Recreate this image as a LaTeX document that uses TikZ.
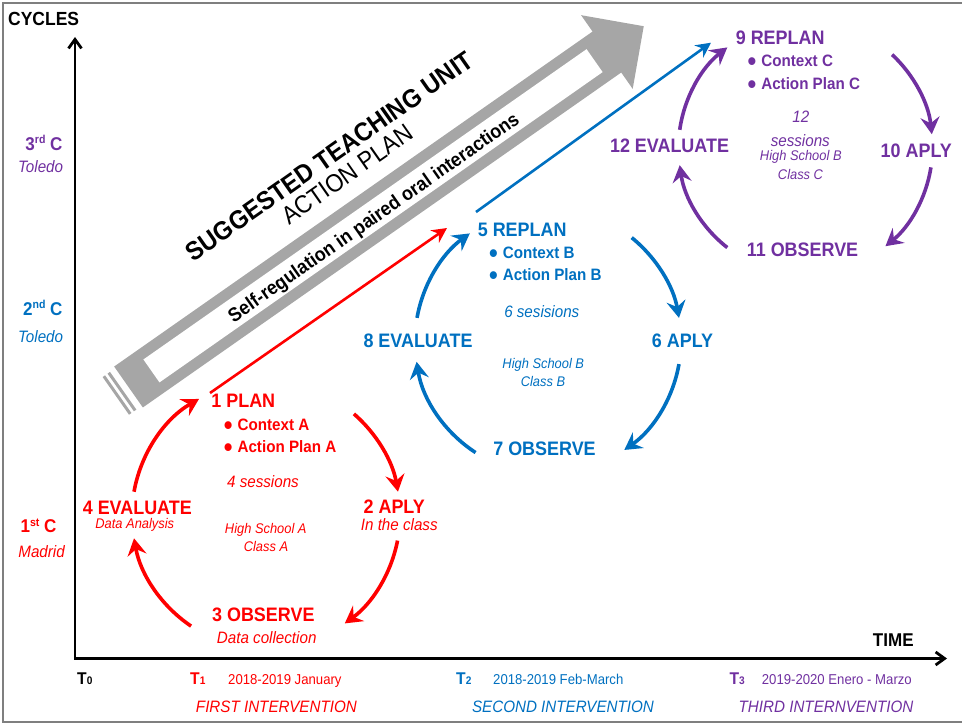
\documentclass[tikz,border=0pt]{standalone}
\usepackage{fontspec}
\setmainfont{Liberation Sans}[FakeStretch=0.92]
\usetikzlibrary{arrows.meta,calc}

\definecolor{cycred}{HTML}{FF0000}
\definecolor{cycblue}{HTML}{0070C0}
\definecolor{cycpurple}{HTML}{7030A0}
\definecolor{bandgray}{HTML}{A6A6A6}
\definecolor{framegray}{HTML}{7F7F7F}

\newcommand{\setfs}[1]{\fontsize{#1}{#1}\selectfont}
\newcommand{\bul}{\raisebox{-4pt}{\setfs{27}\textbullet}\hspace{5pt}}
\newcommand{\tsub}[1]{{\setfs{11}#1}}
\newcommand{\ordsup}[1]{\raisebox{6.5pt}{\setfs{11.5}#1}}

\tikzset{
  stage/.style={font=\bfseries\setfs{19.5}, inner sep=0pt, text depth=0pt},
  item/.style={font=\bfseries\setfs{16.5}, inner sep=0pt, text depth=0pt, anchor=west},
  notebig/.style={font=\itshape\setfs{16.5}, inner sep=0pt, text depth=0pt},
  notesmall/.style={font=\itshape\setfs{14}, inner sep=0pt, text depth=0pt},
  cyclearc/.style={line width=3.6pt, -{Stealth[length=17pt,width=19pt,inset=6pt]}},
  jumparrow/.style={line width=2.6pt, -{Stealth[length=15pt,width=15pt,inset=5pt]}},
  axisline/.style={line width=2.8pt, line join=miter,
    {Straight Barb[length=9pt,width=13pt]}-{Straight Barb[length=9pt,width=13pt]}},
  ylabel/.style={font=\bfseries\setfs{18.5}, inner sep=0pt, anchor=base east},
  yplace/.style={font=\itshape\setfs{16.5}, inner sep=0pt, text depth=0pt, anchor=east},
  tmark/.style={font=\bfseries\setfs{17}, inner sep=0pt, anchor=base west},
  tdate/.style={font=\setfs{14.3}, inner sep=0pt, anchor=base west},
  interv/.style={font=\itshape\setfs{16.5}, inner sep=0pt, text depth=0pt},
  bandtext/.style={rotate=35, inner sep=0pt, text depth=0pt},
}

\begin{document}
\begin{tikzpicture}[x=1pt, y=-1pt]
\useasboundingbox (0,0) rectangle (962,725);

% frame
\draw[framegray, line width=2pt] (962,3) -- (3,3) -- (3,721.5) -- (962,721.5);

% hollow diagonal arrow with its captions
\begin{scope}[shift={(128.5,387)}, rotate=35]
  \fill[bandgray] (0,-25) -- (584,-25) -- (584,-45) -- (629,0) -- (584,45) -- (584,25) -- (0,25) -- cycle;
  \fill[white] (28,-14) rectangle (569,14);
  \fill[bandgray] (-9.5,-23) rectangle (-6.5,23);
  \fill[bandgray] (-15.5,-23) rectangle (-12.5,23);
  \node[bandtext, font=\bfseries\setfs{19.5}] (selfreg) at (298,1) {Self-regulation in paired oral interactions};
  \node[bandtext, font=\setfs{25}] (actionplan) at (301,-49) {ACTION PLAN};
  \node[bandtext, font=\bfseries\setfs{26}] (unit) at (297,-74) {SUGGESTED TEACHING UNIT};
\end{scope}

% axes
\coordinate (origin) at (75,658.5);
\coordinate (ytip) at (75,37);
\coordinate (xtip) at (947,658.5);
\draw[axisline] (ytip) -- (origin) -- (xtip);
\node[font=\bfseries\setfs{19}, inner sep=0pt, text depth=0pt, anchor=west] (cycles) at (8,19.3) {CYCLES};
\node[font=\bfseries\setfs{18.5}, inner sep=0pt, text depth=0pt] (time) at (893.3,640) {TIME};

% cycle labels on the vertical axis
\node[ylabel, cycpurple] (c3lbl) at (62.7,150) {3\ordsup{rd} C};
\node[yplace, cycpurple] (c3city) at (63.3,167) {Toledo};
\node[ylabel, cycblue] (c2lbl) at (62.7,315) {2\ordsup{nd} C};
\node[yplace, cycblue] (c2city) at (63.3,337) {Toledo};
\node[ylabel, cycred] (c1lbl) at (56.7,532.7) {1\ordsup{st} C};
\node[yplace, cycred] (c1city) at (65,552) {Madrid};

% time marks
\node[tmark] (t0) at (77,684) {T\tsub{0}};
\node[tmark, cycred] (t1) at (190,684) {T\tsub{1}};
\node[tdate, cycred] (d1) at (228,684) {2018-2019 January};
\node[tmark, cycblue] (t2) at (456,684) {T\tsub{2}};
\node[tdate, cycblue] (d2) at (493,684) {2018-2019 Feb-March};
\node[tmark, cycpurple] (t3) at (729.3,684) {T\tsub{3}};
\node[tdate, cycpurple] (d3) at (761.7,684) {2019-2020 Enero - Marzo};
\node[interv, cycred] (i1) at (276.4,707) {FIRST INTERVENTION};
\node[interv, cycblue] (i2) at (563,707) {SECOND INTERVENTION};
\node[interv, cycpurple] (i3) at (826,707) {THIRD INTERNVENTION};

% first cycle
\coordinate (c1) at (266,515);
\node[stage, cycred] (plan1) at (243.3,401) {1 PLAN};
\node[item, cycred] (ctxA) at (223.7,424.3) {\bul Context A};
\node[item, cycred] (actA) at (223.7,446.7) {\bul Action Plan A};
\node[notebig, cycred] (sesA) at (263,481.7) {4 sessions};
\node[stage, cycred] (eval4) at (137.3,507.3) {4 EVALUATE};
\node[notesmall, cycred] (anaA) at (134.8,523.3) {Data Analysis};
\node[notesmall, cycred] (hsA) at (265.8,528.3) {High School A};
\node[notesmall, cycred] (clA) at (266,546.7) {Class A};
\node[stage, cycred] (apply2) at (394.2,506.7) {2 APLY};
\node[notebig, cycred] (inclass) at (399.3,525) {In the class};
\node[stage, cycred] (obs3) at (263.3,615) {3 OBSERVE};
\node[notebig, cycred] (datacol) at (266.7,637.3) {Data collection};
\draw[cyclearc, cycred] ($(c1)+(-170:134)$) arc[start angle=-170, end angle=-120, radius=134];
\draw[cyclearc, cycred] ($(c1)+(-49:134)$) arc[start angle=-49, end angle=-10, radius=134];
\draw[cyclearc, cycred] ($(c1)+(11:134)$) arc[start angle=11, end angle=54, radius=134];
\draw[cyclearc, cycred] ($(c1)+(124:134)$) arc[start angle=124, end angle=170, radius=134];

% second cycle
\coordinate (c2) at (548,341);
\node[stage, cycblue] (replan5) at (522.2,229.3) {5 REPLAN};
\node[item, cycblue] (ctxB) at (489,252.3) {\bul Context B};
\node[item, cycblue] (actB) at (489,275) {\bul Action Plan B};
\node[notebig, cycblue] (sesB) at (541.8,311.7) {6 sesisions};
\node[stage, cycblue] (eval8) at (418,341) {8 EVALUATE};
\node[stage, cycblue] (apply6) at (682.5,341) {6 APLY};
\node[notesmall, cycblue] (hsB) at (543.3,363.3) {High School B};
\node[notesmall, cycblue] (clB) at (543,381.7) {Class B};
\node[stage, cycblue] (obs7) at (544.5,448.3) {7 OBSERVE};
\draw[cyclearc, cycblue] ($(c2)+(-170:133)$) arc[start angle=-170, end angle=-126, radius=133];
\draw[cyclearc, cycblue] ($(c2)+(-51:133)$) arc[start angle=-51, end angle=-10, radius=133];
\draw[cyclearc, cycblue] ($(c2)+(10:133)$) arc[start angle=10, end angle=55, radius=133];
\draw[cyclearc, cycblue] ($(c2)+(123:133)$) arc[start angle=123, end angle=171, radius=133];

% third cycle
\coordinate (c3) at (805.5,147.5);
\node[stage, cycpurple] (replan9) at (780.2,37.7) {9 REPLAN};
\node[item, cycpurple] (ctxC) at (747.4,61) {\bul Context C};
\node[item, cycpurple] (actC) at (747.4,83.3) {\bul Action Plan C};
\node[notebig, cycpurple] (twelve) at (800.8,116.7) {12};
\node[notebig, cycpurple] (sesC) at (800.3,140.8) {sessions};
\node[notesmall, cycpurple] (hsC) at (800.8,155) {High School B};
\node[notesmall, cycpurple] (clC) at (800.5,174) {Class C};
\node[stage, cycpurple] (eval12) at (669.5,145.7) {12 EVALUATE};
\node[stage, cycpurple] (apply10) at (916.3,151) {10 APLY};
\node[stage, cycpurple] (obs11) at (802.5,249.3) {11 OBSERVE};
\draw[cyclearc, cycpurple] ($(c3)+(-172:127)$) arc[start angle=-172, end angle=-128, radius=127];
\draw[cyclearc, cycpurple] ($(c3)+(-47:127)$) arc[start angle=-47, end angle=-6, radius=127];
\draw[cyclearc, cycpurple] ($(c3)+(9:127)$) arc[start angle=9, end angle=51, radius=127];
\draw[cyclearc, cycpurple] ($(c3)+(128:127)$) arc[start angle=128, end angle=172, radius=127];

% transitions between cycles
\coordinate (jr0) at (210,393);
\coordinate (jr1) at (447,228);
\draw[jumparrow, cycred] (jr0) -- (jr1);
\coordinate (jb0) at (476,212);
\coordinate (jb1) at (711,42.7);
\draw[jumparrow, cycblue] (jb0) -- (jb1);
\end{tikzpicture}
\end{document}
